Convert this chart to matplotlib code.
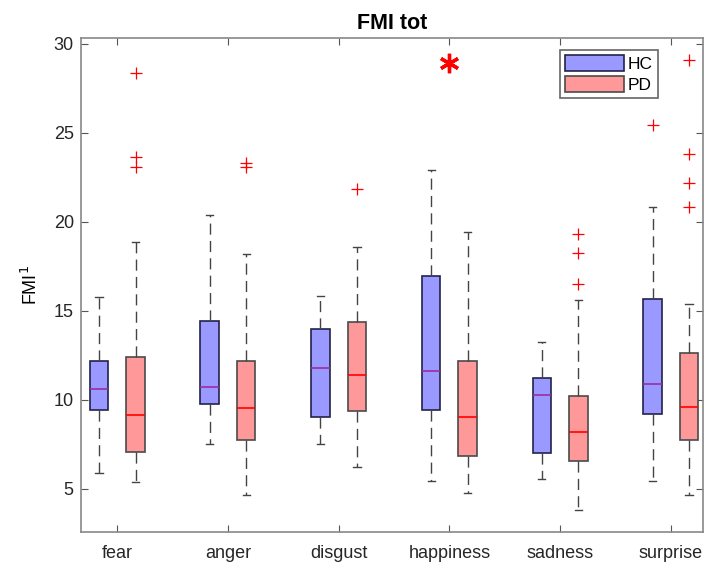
import matplotlib
matplotlib.use("Agg")
import matplotlib.pyplot as plt
from matplotlib.patches import Patch

plt.rcParams["font.family"] = ["Liberation Sans", "DejaVu Sans"]

emotions = ["fear", "anger", "disgust", "happiness", "sadness", "surprise"]

# box stats: (whislo, q1, med, q3, whishi)
hc_stats = [
    (5.88, 9.40, 10.58, 12.16, 15.75),
    (7.50, 9.76, 10.73, 14.44, 20.38),
    (7.50, 9.04, 11.76, 13.99, 15.84),
    (5.42, 9.42, 11.63, 16.95, 22.90),
    (5.56, 6.99, 10.28, 11.20, 13.22),
    (5.42, 9.21, 10.88, 15.66, 20.84),
]
pd_stats = [
    (5.36, 7.06, 9.12, 12.42, 18.88),
    (4.63, 7.75, 9.52, 12.16, 18.17),
    (6.22, 9.35, 11.37, 14.35, 18.60),
    (4.76, 6.82, 9.04, 12.16, 19.44),
    (3.80, 6.54, 8.20, 10.22, 15.62),
    (4.66, 7.74, 9.61, 12.61, 15.38),
]
hc_outliers = [[], [], [], [], [], [25.43]]
pd_outliers = [
    [28.34, 23.63, 23.06],
    [23.30, 23.08],
    [21.82],
    [],
    [19.29, 18.24, 16.52],
    [29.07, 23.82, 22.19, 20.81],
]
# significance marker
sig_emotions = ["happiness"]
sig_y = 28.9

HC_FACE = "#9999ff"
PD_FACE = "#ff9999"


def to_bxp(stats, outliers):
    out = []
    for (lo, q1, med, q3, hi), fl in zip(stats, outliers):
        out.append(dict(whislo=lo, q1=q1, med=med, q3=q3, whishi=hi, fliers=fl, label=""))
    return out


fig = plt.figure(figsize=(7.05, 5.65), dpi=100)
ax = fig.add_axes([0.1145, 0.0584, 0.8825, 0.8749])

pos = list(range(1, len(emotions) + 1))
off = 0.165
width = 0.167

common = dict(
    widths=width, patch_artist=True, showfliers=True, capwidths=0.065,
    whiskerprops=dict(color="#444444", linestyle=(0, (8, 4.5)), linewidth=1.0),
    capprops=dict(color="#444444", linewidth=1.0),
    flierprops=dict(marker="+", markeredgecolor="red", markersize=9, markeredgewidth=0.9),
)

ax.bxp(to_bxp(hc_stats, hc_outliers), positions=[p - off for p in pos],
       boxprops=dict(facecolor=HC_FACE, edgecolor="#22224a", linewidth=1.2),
       medianprops=dict(color="#9b2d9b", linewidth=1.2), **common)
ax.bxp(to_bxp(pd_stats, pd_outliers), positions=[p + off for p in pos],
       boxprops=dict(facecolor=PD_FACE, edgecolor="#4a4a4a", linewidth=1.2),
       medianprops=dict(color="red", linewidth=1.2), **common)

for e in sig_emotions:
    ax.plot(emotions.index(e) + 1, sig_y, marker=(6, 2, 0), color="red",
            markersize=14, markeredgewidth=2.4, linestyle="none")

ax.set_xlim(0.67, 6.29)
ax.set_ylim(2.57, 30.34)
ax.set_xticks(pos)
ax.set_xticklabels(emotions, fontsize=13, color="#262626")
ax.set_yticks([5, 10, 15, 20, 25, 30])
ax.tick_params(axis="y", labelsize=13, labelcolor="#262626", pad=5)
ax.tick_params(direction="in", top=True, right=True, color="#555555", length=5)
ax.tick_params(axis="x", pad=9)
for sp in ax.spines.values():
    sp.set_color("#888888")
    sp.set_linewidth(1.2)

ax.set_ylabel("FMI$^1$", fontsize=13, labelpad=9)
ax.set_title("FMI tot", fontsize=15.5, fontweight="bold", pad=6)

handles = [Patch(facecolor=HC_FACE, edgecolor="#22224a", linewidth=1.2, label="HC"),
           Patch(facecolor=PD_FACE, edgecolor="#4a4a4a", linewidth=1.2, label="PD")]
leg = ax.legend(handles=handles, loc="upper right", bbox_to_anchor=(0.928, 0.975),
                fontsize=12.5, handlelength=3.35, handleheight=1.0, handletextpad=0.25,
                borderpad=0.3, labelspacing=0.25, fancybox=False, framealpha=1,
                edgecolor="#666666", borderaxespad=0)
leg.get_frame().set_linewidth(1.2)

fig.savefig("out.png", dpi=100)
